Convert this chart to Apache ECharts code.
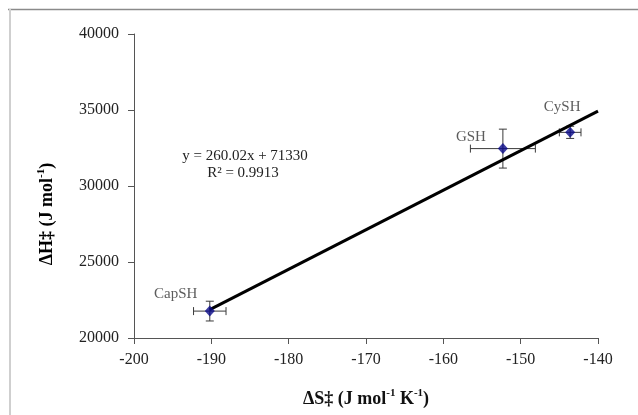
<!DOCTYPE html>
<html>
<head>
<meta charset="utf-8">
<script src="https://cdn.jsdelivr.net/npm/echarts@6/dist/echarts.min.js"></script>
<style>
  html, body { margin: 0; padding: 0; background: #fff; }
  #main { width: 638px; height: 415px; }
</style>
</head>
<body>
<div id="main"></div>
<script>
// samples
const names = ['CapSH', 'GSH', 'CySH'];
const dS = [-190.2, -152.3, -143.6];      // J mol-1 K-1
const dH = [21770, 32460, 33530];         // J mol-1
const dSerr = [2.1, 4.2, 1.4];
const dHerr = [650, 1280, 400];
// trend line ends
const trendX = [-190.2, -140];
const trendY = [21870, 34930];
const eqText = ['y = 260.02x + 71330', 'R² = 0.9913'];

// label offsets (px) for each point
const labelOffsets = [[-34, -17], [-32, -12], [-8, -25]];

const serif = '"Liberation Serif", "Times New Roman", serif';

let myChart = echarts.init(document.getElementById('main'));

const pts = [];
const errData = [];
for (let i = 0; i < names.length; i++) {
	pts.push({
		name: names[i],
		value: [dS[i], dH[i]],
		label: { offset: labelOffsets[i] }
	});
	errData.push([dS[i], dH[i], dSerr[i], dHerr[i]]);
}
const trend = trendX.map((x, i) => [x, trendY[i]]);

function renderErr(params, api) {
	const x = api.value(0), y = api.value(1);
	const ex = api.value(2), ey = api.value(3);
	const l = api.coord([x - ex, y]), r = api.coord([x + ex, y]);
	const t = api.coord([x, y + ey]), b = api.coord([x, y - ey]);
	const c = 4;
	const st = { stroke: '#3a3a3a', lineWidth: 1 };
	const seg = (x1, y1, x2, y2) => ({ type: 'line', shape: { x1, y1, x2, y2 }, style: st });
	return {
		type: 'group',
		children: [
			seg(l[0], l[1], r[0], r[1]),
			seg(l[0], l[1] - c, l[0], l[1] + c),
			seg(r[0], r[1] - c, r[0], r[1] + c),
			seg(t[0], t[1], b[0], b[1]),
			seg(t[0] - c, t[1], t[0] + c, t[1]),
			seg(b[0] - c, b[1], b[0] + c, b[1])
		]
	};
}

// rich styles for axis titles with superscripts
const titleRich = {
	a: { fontFamily: serif, fontSize: 18, fontWeight: 'bold', color: '#111', lineHeight: 20, verticalAlign: 'bottom' },
	s: { fontFamily: serif, fontSize: 11, fontWeight: 'bold', color: '#111', lineHeight: 20, verticalAlign: 'top' }
};

const axisLine = { lineStyle: { color: '#555', width: 1 } };
const axisLabel = { color: '#222', fontFamily: serif, fontSize: 16 };

const option = {
	animation: false,
	grid: { left: 134, right: 40, top: 34, bottom: 77 },
	xAxis: {
		type: 'value',
		min: -200, max: -140, interval: 10,
		axisLine: axisLine,
		axisTick: { show: true, length: 6, lineStyle: { color: '#555' } },
		axisLabel: Object.assign({ margin: 14 }, axisLabel),
		splitLine: { show: false },
		name: '{a|ΔS‡ (J mol}{s|-1}{a| K}{s|-1}{a|)}',
		nameLocation: 'middle',
		nameGap: 50,
		nameTextStyle: { rich: titleRich }
	},
	yAxis: {
		type: 'value',
		min: 20000, max: 40000, interval: 5000,
		axisLine: { show: true, lineStyle: { color: '#555', width: 1 } },
		axisTick: { show: true, length: 6, lineStyle: { color: '#555' } },
		axisLabel: Object.assign({ margin: 15, formatter: v => String(v) }, axisLabel),
		splitLine: { show: false }
	},
	graphic: [
		{ type: 'line', shape: { x1: 8, y1: 9.5, x2: 638, y2: 9.5 }, style: { stroke: '#8a8a8a', lineWidth: 1.5 } },
		{ type: 'line', shape: { x1: 10, y1: 9, x2: 10, y2: 415 }, style: { stroke: '#cfcfcf', lineWidth: 2 } },
		{
			type: 'text', x: 46, y: 214, rotation: Math.PI / 2,
			style: { text: '{a|ΔH‡ (J mol}{s|-1}{a|)}', rich: titleRich, align: 'center', verticalAlign: 'middle' }
		},
		{
			type: 'text', x: 245, y: 156,
			style: { text: eqText[0], fill: '#222', font: '15px ' + serif, align: 'center', verticalAlign: 'middle' }
		},
		{
			type: 'text', x: 243, y: 173,
			style: { text: eqText[1], fill: '#222', font: '15px ' + serif, align: 'center', verticalAlign: 'middle' }
		}
	],
	series: [
		{
			type: 'custom',
			renderItem: renderErr,
			data: errData,
			z: 1,
			encode: { x: 0, y: 1 }
		},
		{
			type: 'line',
			data: trend,
			symbol: 'none',
			lineStyle: { color: '#000', width: 3 },
			z: 2
		},
		{
			type: 'scatter',
			data: pts,
			symbol: 'diamond',
			symbolSize: [10, 11],
			itemStyle: { color: '#0a0a8a' },
			label: {
				show: true,
				position: 'inside',
				formatter: '{b}',
				color: '#333',
				fontFamily: serif,
				fontSize: 15
			},
			z: 3
		}
	]
};
myChart.setOption(option);
</script>
</body>
</html>
